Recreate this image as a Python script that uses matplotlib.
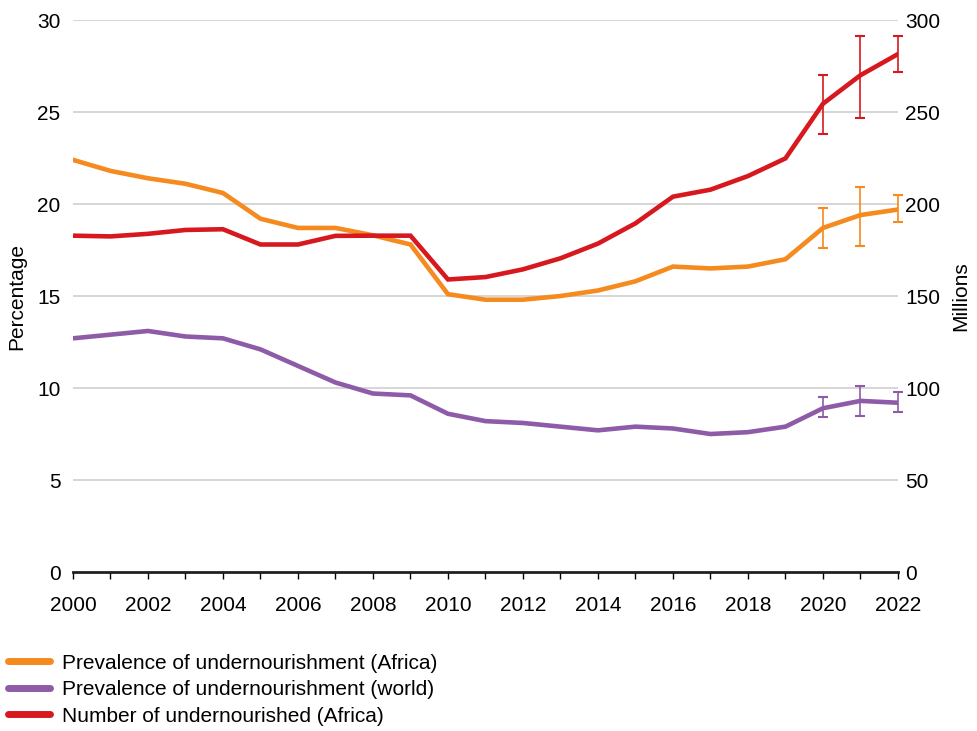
import numpy as np
import matplotlib.pyplot as plt
from matplotlib.lines import Line2D

plt.rcParams['font.family'] = ['Liberation Sans', 'DejaVu Sans']

years = list(range(2000, 2023))
pou_africa = [22.4, 21.8, 21.4, 21.1, 20.6, 19.2, 18.7, 18.7, 18.3, 17.8, 15.1, 14.8,
              14.8, 15.0, 15.3, 15.8, 16.6, 16.5, 16.6, 17.0, 18.7, 19.4, 19.7]
pou_world = [12.7, 12.9, 13.1, 12.8, 12.7, 12.1, 11.2, 10.3, 9.7, 9.6, 8.6, 8.2,
             8.1, 7.9, 7.7, 7.9, 7.8, 7.5, 7.6, 7.9, 8.9, 9.3, 9.2]
nou_africa = [182.8, 182.4, 183.8, 185.9, 186.3, 178.0, 178.0, 182.7, 182.8, 182.8, 159.0, 160.3,
              164.5, 170.5, 178.5, 189.5, 204.0, 207.8, 215.2, 224.8, 254.5, 270.0, 281.5]

# ranges for the last three years (2020-2022)
err_years = [2020, 2021, 2022]
africa_lo = [17.6, 17.7, 19.0]
africa_hi = [19.8, 20.9, 20.5]
world_lo = [8.4, 8.5, 8.7]
world_hi = [9.5, 10.1, 9.8]
nou_lo = [238.0, 246.5, 271.5]
nou_hi = [270.0, 291.5, 291.5]

c_orange = '#F58A1F'
c_purple = '#8E5BA8'
c_red = '#D7191F'
fs = 15

fig = plt.figure(figsize=(9.77, 7.31), dpi=100)
ax = fig.add_axes([0.0747, 0.2175, 0.8444, 0.7551])
ax2 = ax.twinx()

for a in (ax, ax2):
    for s in ('left', 'right', 'top'):
        a.spines[s].set_visible(False)
    a.tick_params(axis='y', length=0, labelsize=fs)
ax.tick_params(axis='y', pad=9)
ax2.tick_params(axis='y', pad=5)

ax.set_ylim(0, 30)
ax2.set_ylim(0, 300)
ax.set_xlim(2000, 2022)
ax.set_yticks(range(0, 31, 5))
ax2.set_yticks(range(0, 301, 50))
for v in range(5, 31, 5):
    ax.axhline(v, color='#d0d0d0', lw=1.2, zorder=0)

ax.spines['bottom'].set_linewidth(2)
ax.spines['bottom'].set_color('#231f20')
ax2.spines['bottom'].set_visible(False)
ax.set_xticks(years)
ax.set_xticklabels([str(y) if y % 2 == 0 else '' for y in years])
ax.tick_params(axis='x', length=5, width=1, direction='out', labelsize=fs, pad=12)

ax.plot(years, pou_africa, color=c_orange, lw=3.3, solid_joinstyle='miter', zorder=3)
ax.plot(years, pou_world, color=c_purple, lw=3.3, solid_joinstyle='miter', zorder=3)
ax2.plot(years, nou_africa, color=c_red, lw=3.3, solid_joinstyle='miter', zorder=3)

def ranges(a, vals, lo, hi, col):
    mid = [vals[years.index(y)] for y in err_years]
    yerr = [np.array(mid) - np.array(lo), np.array(hi) - np.array(mid)]
    eb = a.errorbar(err_years, mid, yerr=yerr, fmt='none', ecolor=col, elinewidth=1.2,
                    capsize=3.5, capthick=1.5, zorder=4)
    for art in eb.lines[1] + eb.lines[2]:
        art.set_clip_on(False)

ranges(ax, pou_africa, africa_lo, africa_hi, c_orange)
ranges(ax, pou_world, world_lo, world_hi, c_purple)
ranges(ax2, nou_africa, nou_lo, nou_hi, c_red)

ax.set_ylabel('Percentage', fontsize=fs, labelpad=8)
ax2.set_ylabel('Millions', fontsize=fs, labelpad=8)

handles = [Line2D([], [], color=c_orange, lw=5, solid_capstyle='round'),
           Line2D([], [], color=c_purple, lw=5, solid_capstyle='round'),
           Line2D([], [], color=c_red, lw=5, solid_capstyle='round')]
labels = ['Prevalence of undernourishment (Africa)',
          'Prevalence of undernourishment (world)',
          'Number of undernourished (Africa)']
fig.legend(handles, labels, loc='lower left', bbox_to_anchor=(0.0, -0.004), frameon=False,
           fontsize=fs, handlelength=2.0, handletextpad=0.6, labelspacing=0.36,
           borderaxespad=0.0)

fig.savefig('out.png', dpi=100)
